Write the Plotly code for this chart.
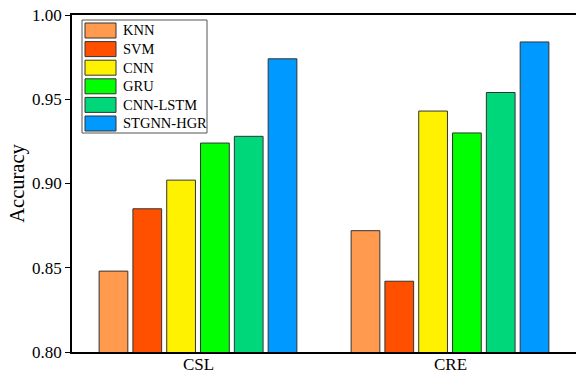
import plotly.graph_objects as go

# Datasets on the x axis
datasets = ["CSL", "CRE"]

# Methods compared and their bar colours
methods = ["KNN", "SVM", "CNN", "GRU", "CNN-LSTM", "STGNN-HGR"]
colors = ["#FF9A4F", "#FF5000", "#FFF200", "#00FF00", "#00D67A", "#0099FF"]

# Accuracy per method on each dataset
knn = [0.848, 0.872]
svm = [0.885, 0.842]
cnn = [0.902, 0.943]
gru = [0.924, 0.930]
cnn_lstm = [0.928, 0.954]
stgnn_hgr = [0.974, 0.984]
values = [knn, svm, cnn, gru, cnn_lstm, stgnn_hgr]

# Y-axis ticks
y_ticks = [0.80, 0.85, 0.90, 0.95, 1.00]

FONT = "Liberation Serif, Times New Roman, serif"
W, H = 576, 375
ML, MR, MT, MB = 72, 0, 15, 23
PW, PH = W - ML - MR, H - MT - MB

fig = go.Figure()
for name, col, vals in zip(methods, colors, values):
    fig.add_trace(go.Bar(
        x=datasets, y=vals, name=name,
        marker=dict(color=col, line=dict(color="#333333", width=1)),
        showlegend=False,
    ))


def px_x(px):
    return (px - ML) / PW


def px_y(py):
    return (H - MB - py) / PH


# Legend drawn as a framed box with colour swatches
shapes = [dict(type="rect", xref="paper", yref="paper",
               x0=px_x(82), x1=px_x(207), y0=px_y(133), y1=px_y(20),
               line=dict(color="#555555", width=1), fillcolor="white", layer="above")]
annotations = []
row0, step = 30.5, 18.6
for i, (name, col) in enumerate(zip(methods, colors)):
    cy = row0 + i * step
    shapes.append(dict(type="rect", xref="paper", yref="paper",
                       x0=px_x(85), x1=px_x(116), y0=px_y(cy + 7.5), y1=px_y(cy - 7.5),
                       line=dict(color="#333333", width=1), fillcolor=col, layer="above"))
    annotations.append(dict(xref="paper", yref="paper", x=px_x(120.5), y=px_y(cy),
                            text=name, showarrow=False, xanchor="left", yanchor="middle",
                            font=dict(family=FONT, size=14.5, color="black")))

# Dataset names under each bar group, kept tight to the axis
for ds in datasets:
    annotations.append(dict(xref="x", yref="paper", x=ds, y=0, yshift=-2,
                            text=ds, showarrow=False, xanchor="center", yanchor="top",
                            borderpad=0,
                            font=dict(family=FONT, size=17, color="black")))

fig.update_layout(
    width=W, height=H,
    margin=dict(l=ML, r=MR, t=MT, b=MB),
    paper_bgcolor="white", plot_bgcolor="white",
    barmode="group", bargap=0.195, bargroupgap=0.15,
    font=dict(family=FONT, size=17, color="black"),
    shapes=shapes, annotations=annotations,
    xaxis=dict(showline=True, linecolor="black", linewidth=1.5, mirror=True,
               ticks="", showgrid=False, showticklabels=False, range=[-0.5, 1.5],
               automargin=False),
    yaxis=dict(range=[0.80, 1.00], tickvals=y_ticks, tickformat=".2f",
               showline=True, linecolor="black", linewidth=1.5, mirror=True,
               ticks="outside", ticklen=5, tickwidth=1.2, tickcolor="black",
               showgrid=False, zeroline=False, tickfont=dict(size=17),
               automargin=False,
               title=dict(text="Accuracy", font=dict(size=20.5), standoff=2)),
)

fig.write_html("out.html")
